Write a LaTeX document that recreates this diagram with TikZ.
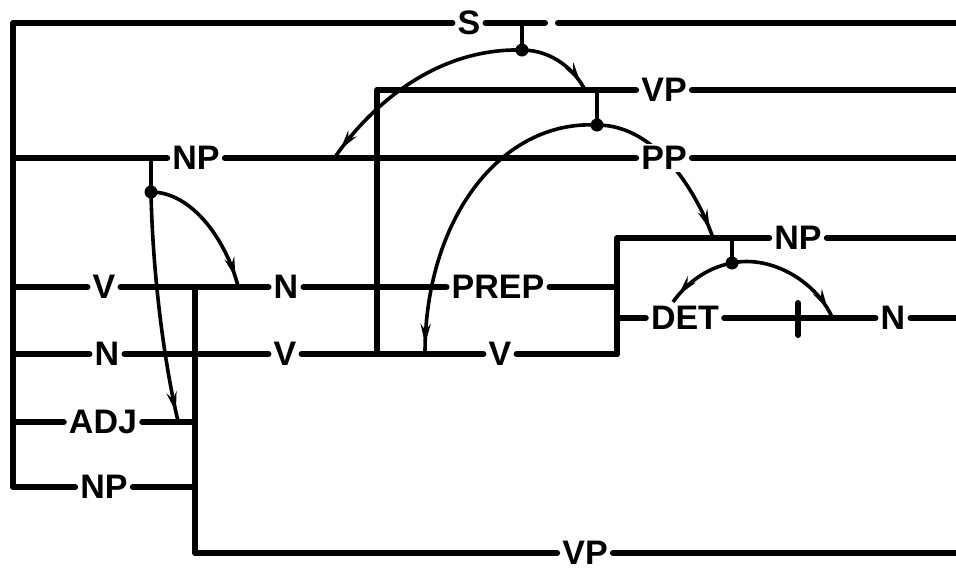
\documentclass[tikz,border=0pt]{standalone}
\usepackage{fontspec}
\setmainfont{Liberation Sans}
\usetikzlibrary{arrows.meta,decorations.markings}
\pgfdeclarelayer{background}
\pgfsetlayers{background,main}
\begin{document}
\begin{tikzpicture}[x=1pt,y=-1pt,
  lab/.style={font=\fontsize{34}{40}\selectfont\bfseries, fill=white, inner xsep=5pt, inner ysep=2pt},
  bar/.style={line width=6pt, line cap=round, line join=round},
  arcline/.style={line width=3.6pt, postaction={decorate},
    decoration={markings, mark=at position -9pt with {\arrow{Stealth[length=20pt,width=10pt]}}}},
  knot/.style={circle, fill=black, inner sep=0pt, minimum size=13pt}]
\useasboundingbox (0,0) rectangle (956,571);
% labels
\node[lab] (S)    at (469,23)  {S};
\node[lab] (VPa)  at (664,90)  {VP};
\node[lab] (NPa)  at (196,158) {NP};
\node[lab] (PP)   at (664,158) {PP};
\node[lab] (NPb)  at (798,238) {NP};
\node[lab] (Va)   at (104,287) {V};
\node[lab] (Na)   at (286,287) {N};
\node[lab] (PREP) at (498,287) {PREP};
\node[lab] (DET)  at (685,318) {DET};
\node[lab] (Nb)   at (893,318) {N};
\node[lab] (Nc)   at (107,354) {N};
\node[lab] (Vb)   at (285,354) {V};
\node[lab] (Vc)   at (500,354) {V};
\node[lab] (ADJ)  at (103,422) {ADJ};
\node[lab] (NPc)  at (104,487) {NP};
\node[lab] (VPb)  at (585,553) {VP};
% coordinates
\coordinate (L1) at (13,23);
\coordinate (L2) at (13,158);
\coordinate (L3) at (13,287);
\coordinate (L4) at (13,354);
\coordinate (L5) at (13,422);
\coordinate (L6) at (13,487);
\coordinate (Sg1) at (545,23);
\coordinate (Sg2) at (558,23);
\coordinate (Sr) at (956,23);
\coordinate (VPt) at (377,90);
\coordinate (VPv) at (377,354);
\coordinate (VPr) at (956,90);
\coordinate (PPr) at (956,158);
\coordinate (NPbt) at (617,238);
\coordinate (NPbr) at (956,238);
\coordinate (Bp) at (617,287);
\coordinate (Bd) at (617,318);
\coordinate (Bv) at (617,354);
\coordinate (Nbr) at (956,318);
\coordinate (Ct) at (195,287);
\coordinate (Ca) at (195,422);
\coordinate (Cn) at (195,487);
\coordinate (Cb) at (195,553);
\coordinate (VPbr) at (956,553);
\coordinate (T1) at (798,303);
\coordinate (T2) at (798,335);
% ticks and knots
\node[knot] (kS)   at (522,50)  {};
\node[knot] (kVP)  at (597,125) {};
\node[knot] (kNP)  at (151,192) {};
\node[knot] (kNPb) at (732,263) {};
\coordinate (tS) at (522,23);
\coordinate (tVP) at (597,90);
\coordinate (tNP) at (151,158);
\coordinate (tNPb) at (732,238);
% bars
\draw[bar] (S.west) -- (L1) -- (L6) -- (NPc.west);
\draw[bar] (L2) -- (NPa.west);
\draw[bar] (L3) -- (Va.west);
\draw[bar] (L4) -- (Nc.west);
\draw[bar] (L5) -- (ADJ.west);
\draw[bar] (S.east) -- (Sg1);
\draw[bar] (Sg2) -- (Sr);
\draw[bar] (VPv) -- (VPt) -- (VPa.west);
\draw[bar] (VPa.east) -- (VPr);
\draw[bar] (NPa.east) -- (PP.west);
\draw[bar] (PP.east) -- (PPr);
\draw[bar] (Bv) -- (NPbt) -- (NPb.west);
\draw[bar] (NPb.east) -- (NPbr);
\draw[bar] (Va.east) -- (Na.west);
\draw[bar] (Na.east) -- (PREP.west);
\draw[bar] (PREP.east) -- (Bp);
\draw[bar] (Bd) -- (DET.west);
\draw[bar] (DET.east) -- (Nb.west);
\draw[bar] (T1) -- (T2);
\draw[bar] (Nb.east) -- (Nbr);
\draw[bar] (Nc.east) -- (Vb.west);
\draw[bar] (Vb.east) -- (Vc.west);
\draw[bar] (Vc.east) -- (Bv);
\draw[bar] (ADJ.east) -- (Ca);
\draw[bar] (NPc.east) -- (Cn);
\draw[bar] (Ct) -- (Cb) -- (VPb.west);
\draw[bar] (VPb.east) -- (VPbr);
\draw[line width=4.5pt] (tS) -- (kS.center);
\draw[line width=4.5pt] (tVP) -- (kVP.center);
\draw[line width=4.5pt] (tNP) -- (kNP.center);
\draw[line width=4.5pt] (tNPb) -- (kNPb.center);
% arcs
\coordinate (eS1) at (335,157);
\coordinate (eS2) at (585,90);
\coordinate (eVP1) at (425,353);
\coordinate (eVP2) at (713,238);
\coordinate (eNP1) at (238,286);
\coordinate (eNP2) at (178,421);
\coordinate (eD1) at (673,302);
\coordinate (eD2) at (832,317);
\draw[arcline] (kS.center) .. controls (440,48) and (375,100) .. (eS1);
\draw[arcline] (kS.center) .. controls (552,50) and (575,70) .. (eS2);
\draw[arcline] (kVP.center) .. controls (500,120) and (425,220) .. (eVP1);
\begin{pgfonlayer}{background}
\draw[arcline] (kVP.center) .. controls (660,125) and (700,200) .. (eVP2);
\end{pgfonlayer}
\draw[arcline] (kNP.center) .. controls (192,192) and (226,240) .. (eNP1);
\draw[arcline] (kNP.center) .. controls (153,290) and (168,380) .. (eNP2);
\draw[arcline] (kNPb.center) .. controls (705,268) and (685,285) .. (eD1);
\draw[arcline] (kNPb.center) .. controls (770,255) and (815,280) .. (eD2);
\end{tikzpicture}
\end{document}
